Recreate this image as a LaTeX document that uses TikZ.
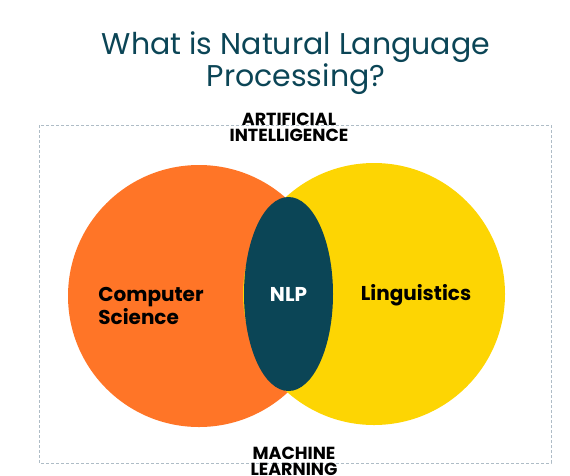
\documentclass[tikz,border=0pt]{standalone}
\usepackage{fontspec}
\setmainfont{Poppins}
\usepackage{xcolor}
\usepackage{tikz}
\usetikzlibrary{shapes.geometric}

\definecolor{nlpteal}{HTML}{0B4556}
\definecolor{csorange}{HTML}{FF7527}
\definecolor{lingyellow}{HTML}{FDD503}
\definecolor{framegray}{HTML}{AEBCC6}

\tikzset{
  area/.style={circle,minimum size=262pt,inner sep=0pt},
  areatext/.style={font=\bfseries\fontsize{20}{19}\selectfont,text=black,align=left,inner sep=0pt},
  tag/.style={font=\bfseries\fontsize{17.5}{16}\selectfont,align=center,inner sep=0pt}
}

\begin{document}
\begin{tikzpicture}[x=1pt,y=-1pt]
\useasboundingbox (0,0) rectangle (570,475);

\node (title) at (296,63)[text=nlpteal,align=center,font=\fontsize{30}{30}\selectfont]{What is Natural Language\\Processing?};

\draw[framegray,dash pattern=on 3pt off 2pt,line width=0.6pt] (39,125) rectangle (551,463);

\node (cs) at (199,296)[area,fill=csorange]{};
\node (ling) at (374,294)[area,fill=lingyellow]{};

\node (nlp) at (288.5,294)[ellipse,fill=nlpteal,minimum width=89pt,minimum height=194pt,inner sep=0pt,text=white,font=\bfseries\fontsize{20}{20}\selectfont]{NLP};

\node (cstext) at (151,306)[areatext]{Computer\\Science};
\node (lingtext) at (416,295)[areatext]{Linguistics};

\node (ai) at (289,127)[tag]{ARTIFICIAL\\INTELLIGENCE};
\node (ml) at (294,461)[tag]{MACHINE\\LEARNING};

\end{tikzpicture}
\end{document}
